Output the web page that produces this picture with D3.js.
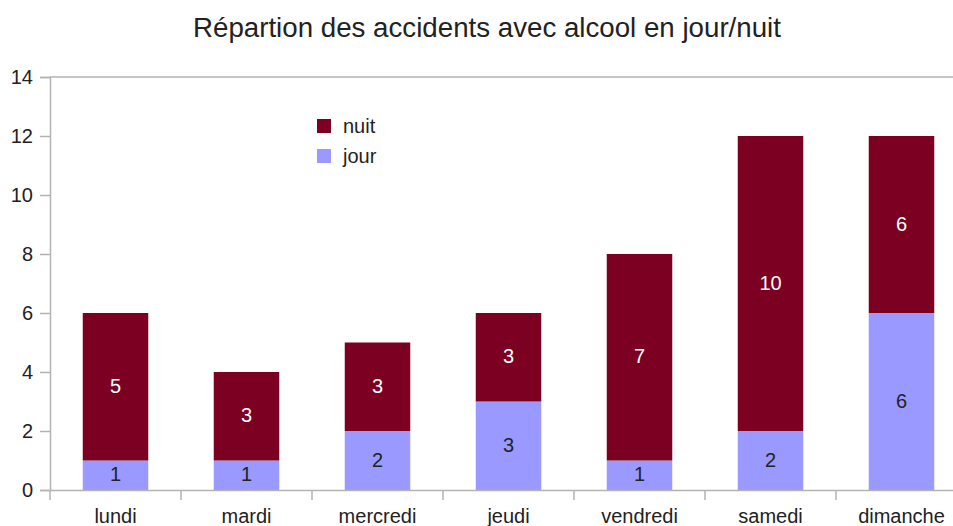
<!DOCTYPE html>
<html>
<head>
<meta charset="utf-8">
<script src="https://d3js.org/d3.v7.min.js"></script>
<style>
  body { margin: 0; background: #fff; }
  svg { display: block; font-family: "Liberation Sans", Arial, sans-serif; }
</style>
</head>
<body>
<svg width="953" height="526"></svg>
<script>
// data
var days = ["lundi", "mardi", "mercredi", "jeudi", "vendredi", "samedi", "dimanche"];
var jour = [1, 1, 2, 3, 1, 2, 6];
var nuit = [5, 3, 3, 3, 7, 10, 6];
var yTicks = [0, 2, 4, 6, 8, 10, 12, 14];

var svg = d3.select("svg");
var mLeft = 50, mRight = 967, mTop = 77, mBottom = 490;

var x = d3.scaleBand().domain(days).range([mLeft, mRight]).paddingInner(0.5).paddingOuter(0.25);
var band = d3.scaleBand().domain(days).range([mLeft, mRight]);
var y = d3.scaleLinear().domain([0, 14]).range([mBottom, mTop]);

var colors = { jour: "#9999ff", nuit: "#7b0021" };
var axisColor = "#b3b3b3";
var textColor = "#222";

// title
svg.append("text")
    .attr("x", 487).attr("y", 37)
    .attr("text-anchor", "middle")
    .attr("font-size", 27.7)
    .attr("fill", textColor)
    .text("Répartion des accidents avec alcool en jour/nuit");

// y axis
var yAxis = svg.append("g").attr("transform", "translate(" + mLeft + ",0)")
    .call(d3.axisLeft(y).tickValues(yTicks).tickSize(10).tickPadding(7));
yAxis.select(".domain").attr("stroke", axisColor).attr("stroke-width", 1.5);
yAxis.selectAll(".tick line").attr("stroke", axisColor).attr("stroke-width", 1.5);
yAxis.selectAll("text").attr("font-size", 20).attr("fill", textColor)
    .attr("font-family", "Liberation Sans, Arial, sans-serif");

// top line at 14
svg.append("line")
    .attr("x1", mLeft).attr("x2", mRight)
    .attr("y1", y(14)).attr("y2", y(14))
    .attr("stroke", axisColor).attr("stroke-width", 1.5);

// bars
var stackData = days.map(function(d, i) { return { day: d, jour: jour[i], nuit: nuit[i] }; });
var series = d3.stack().keys(["jour", "nuit"])(stackData);

var groups = svg.append("g").selectAll("g").data(series).enter().append("g")
    .attr("fill", function(s) { return colors[s.key]; });

groups.selectAll("rect").data(function(s) { return s; }).enter().append("rect")
    .attr("x", function(d) { return x(d.data.day); })
    .attr("width", x.bandwidth())
    .attr("y", function(d) { return y(d[1]); })
    .attr("height", function(d) { return y(d[0]) - y(d[1]); });

// value labels
series.forEach(function(s) {
  svg.append("g").selectAll("text").data(s).enter().append("text")
      .attr("x", function(d) { return x(d.data.day) + x.bandwidth() / 2; })
      .attr("y", function(d) { return (y(d[0]) + y(d[1])) / 2 + 6; })
      .attr("text-anchor", "middle")
      .attr("font-size", 20)
      .attr("fill", s.key == "nuit" ? "#fff" : textColor)
      .text(function(d) { return d.data[s.key]; });
});

// x axis
var xAxis = svg.append("g").attr("transform", "translate(0," + mBottom + ")")
    .call(d3.axisBottom(band).tickSize(0).tickPadding(19));
xAxis.select(".domain").attr("stroke", axisColor).attr("stroke-width", 1.5);
xAxis.selectAll("text").attr("font-size", 20).attr("fill", textColor)
    .attr("font-family", "Liberation Sans, Arial, sans-serif");
svg.append("g").selectAll("line").data(days).enter().append("line")
    .attr("x1", function(d) { return band(d); })
    .attr("x2", function(d) { return band(d); })
    .attr("y1", mBottom).attr("y2", mBottom + 10)
    .attr("stroke", axisColor).attr("stroke-width", 1.5);

// legend
var legend = svg.append("g").attr("transform", "translate(317,119)");
["nuit", "jour"].forEach(function(k, i) {
  legend.append("rect").attr("x", 0).attr("y", i * 30)
      .attr("width", 14).attr("height", 14).attr("fill", colors[k]);
  legend.append("text").attr("x", 26).attr("y", i * 30 + 14)
      .attr("font-size", 20).attr("fill", textColor).text(k);
});
</script>
</body>
</html>
